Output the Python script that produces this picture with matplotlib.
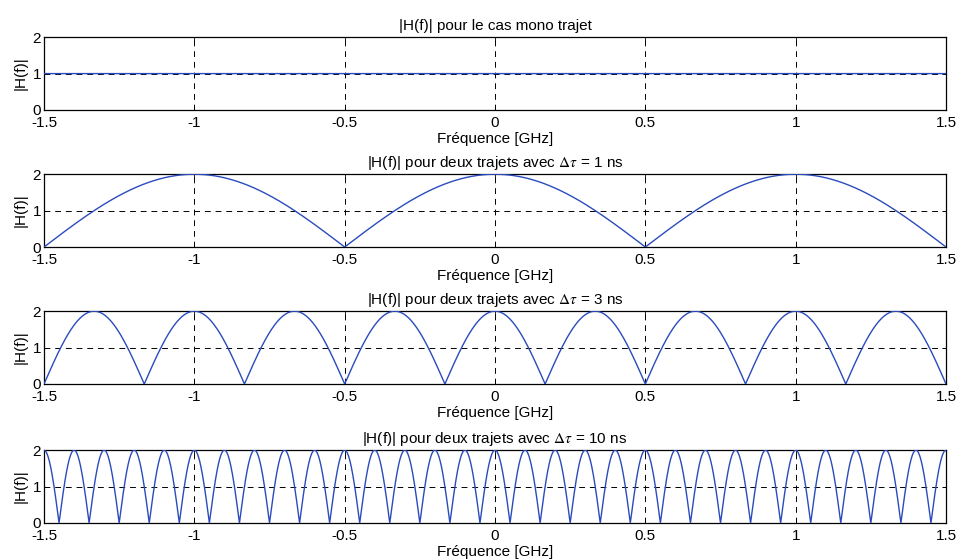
import numpy as np
import matplotlib.pyplot as plt

plt.rcParams['font.family'] = ['Liberation Sans', 'DejaVu Sans']
plt.rcParams['font.size'] = 11
plt.rcParams['mathtext.fontset'] = 'stix'

# delays between the two paths (ns); None = single path
titles = ["|H(f)| pour le cas mono trajet",
          r"|H(f)| pour deux trajets avec $\Delta\tau$ = 1 ns",
          r"|H(f)| pour deux trajets avec $\Delta\tau$ = 3 ns",
          r"|H(f)| pour deux trajets avec $\Delta\tau$ = 10 ns"]
delays_ns = [None, 1, 3, 10]
f_min, f_max = -1.5, 1.5          # GHz
xticks = [-1.5, -1, -0.5, 0, 0.5, 1, 1.5]
xticklabels = ["-1.5", "-1", "-0.5", "0", "0.5", "1", "1.5"]
yticks = [0, 1, 2]

f = np.linspace(f_min, f_max, 3001)

fig = plt.figure(figsize=(9.57, 5.6), dpi=100)
bottoms = [0.8036, 0.5589, 0.3143, 0.0661]
height = 0.130
line_color = '#2a4bbd'

for title, tau, b in zip(titles, delays_ns, bottoms):
    ax = fig.add_axes([0.046, b, 0.9425, height])
    if tau is None:
        h = np.ones_like(f)
    else:
        # |1 + exp(-j 2 pi f tau)|
        h = np.abs(1 + np.exp(-2j * np.pi * f * tau))
    ax.plot(f, h, color=line_color, lw=1.0, zorder=3)
    ax.set_xlim(f_min, f_max)
    ax.set_ylim(0, 2)
    ax.set_xticks(xticks)
    ax.set_xticklabels(xticklabels)
    ax.set_yticks(yticks)
    ax.grid(True, color='black', linestyle=(0, (6, 5)), linewidth=0.7, zorder=1)
    ax.tick_params(direction='in', top=True, right=True, length=3, width=0.6)
    ax.tick_params(axis='x', pad=4.5)
    ax.tick_params(axis='y', pad=2)
    for s in ax.spines.values():
        s.set_linewidth(0.9)
    ax.set_title(title, fontsize=11, pad=5)
    ax.set_xlabel("Fréquence [GHz]", labelpad=1)
    ax.set_ylabel("|H(f)|", labelpad=4)

fig.savefig("out.png", dpi=100)
